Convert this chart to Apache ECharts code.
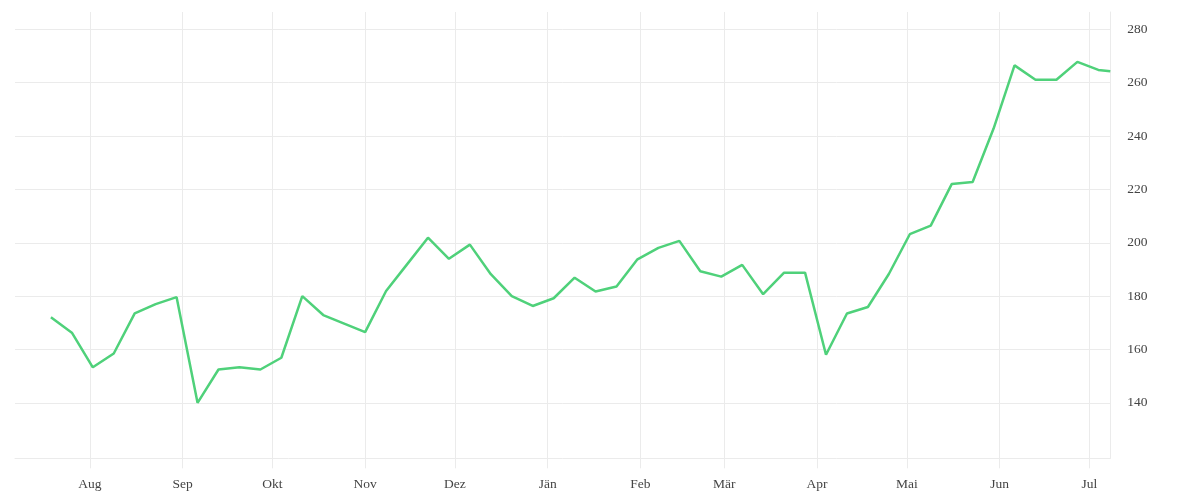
<!DOCTYPE html>
<html>
<head>
<meta charset="utf-8">
<script src="https://cdn.jsdelivr.net/npm/echarts@6/dist/echarts.min.js"></script>
<style>
html,body{margin:0;padding:0;background:#fff;}
#chart{width:1200px;height:500px;}
</style>
</head>
<body>
<div id="chart"></div>
<script>
const dates = [
  '2022-07-19','2022-07-26','2022-08-02','2022-08-09','2022-08-16','2022-08-23','2022-08-30',
  '2022-09-06','2022-09-13','2022-09-20','2022-09-27',
  '2022-10-04','2022-10-11','2022-10-18','2022-10-25',
  '2022-11-01','2022-11-08','2022-11-15','2022-11-22','2022-11-29',
  '2022-12-06','2022-12-13','2022-12-20','2022-12-27',
  '2023-01-03','2023-01-10','2023-01-17','2023-01-24','2023-01-31',
  '2023-02-07','2023-02-14','2023-02-21','2023-02-28',
  '2023-03-07','2023-03-14','2023-03-21','2023-03-28',
  '2023-04-04','2023-04-11','2023-04-18','2023-04-25',
  '2023-05-02','2023-05-09','2023-05-16','2023-05-23','2023-05-30',
  '2023-06-06','2023-06-13','2023-06-20','2023-06-27',
  '2023-07-04','2023-07-08'
];
const values = [
  172.1,166.3,153.3,158.5,173.5,177.0,179.6,
  140.0,152.5,153.3,152.5,
  156.9,180.0,172.9,169.7,
  166.5,181.9,191.9,201.9,194.0,
  199.3,188.2,180.0,176.3,
  179.2,186.9,181.7,183.6,193.8,
  198.1,200.7,189.3,187.3,
  191.7,180.7,188.8,188.8,
  158.0,173.5,175.9,188.3,
  203.2,206.4,222.0,222.8,242.8,
  266.5,261.1,261.1,267.8,
  264.8,264.3
];
const monthTicks = ['2022-08-01','2022-09-01','2022-10-01','2022-11-01','2022-12-01','2023-01-01',
  '2023-02-01','2023-03-01','2023-04-01','2023-05-01','2023-06-01','2023-07-01'];
const monthLabels = ['Aug','Sep','Okt','Nov','Dez','Jän','Feb','Mär','Apr','Mai','Jun','Jul'];
const yTicks = [140,160,180,200,220,240,260,280];
const xRange = ['2022-07-07','2023-07-08'];
const yRange = [119.2, 286.5];

function parseLocal(s){
  const p = s.split('-').map(Number);
  return new Date(p[0], p[1]-1, p[2]).getTime();
}
const monthTickTimes = monthTicks.map(parseLocal);
const seriesData = dates.map((d,i)=>[parseLocal(d), values[i]]);

const gridColor = '#ebebeb';
const textStyle = {fontFamily:'"Liberation Serif", serif', fontSize:13.5, color:'#444'};

const chart = echarts.init(document.getElementById('chart'), null, {renderer:'canvas'});
chart.setOption({
  animation:false,
  backgroundColor:'#fff',
  grid:{left:15, right:89.7, top:12, bottom:41.7, containLabel:false},
  xAxis:{
    type:'value',
    min: parseLocal(xRange[0]),
    max: parseLocal(xRange[1]),
    axisLine:{show:true, lineStyle:{color:gridColor, width:1}},
    axisTick:{show:true, length:10, lineStyle:{color:gridColor, width:1}, customValues: monthTickTimes},
    splitLine:{show:true, lineStyle:{color:gridColor, width:1}},
    axisLabel:{
      customValues: monthTickTimes,
      margin:19,
      ...textStyle,
      formatter:function(v){
        const i = monthTickTimes.indexOf(v);
        return i>=0 ? monthLabels[i] : '';
      }
    }
  },
  yAxis:{
    type:'value',
    position:'right',
    min: yRange[0],
    max: yRange[1],
    axisLine:{show:true, lineStyle:{color:gridColor, width:1}},
    axisTick:{show:false, customValues: yTicks},
    splitLine:{show:true, lineStyle:{color:gridColor, width:1}},
    axisLabel:{customValues: yTicks, margin:17, padding:[3,0,0,0], ...textStyle}
  },
  series:[{
    type:'line',
    data: seriesData,
    showSymbol:false,
    symbol:'none',
    lineStyle:{color:'#4fd17a', width:2.5},
    itemStyle:{color:'#4fd17a'}
  }]
});
</script>
</body>
</html>
